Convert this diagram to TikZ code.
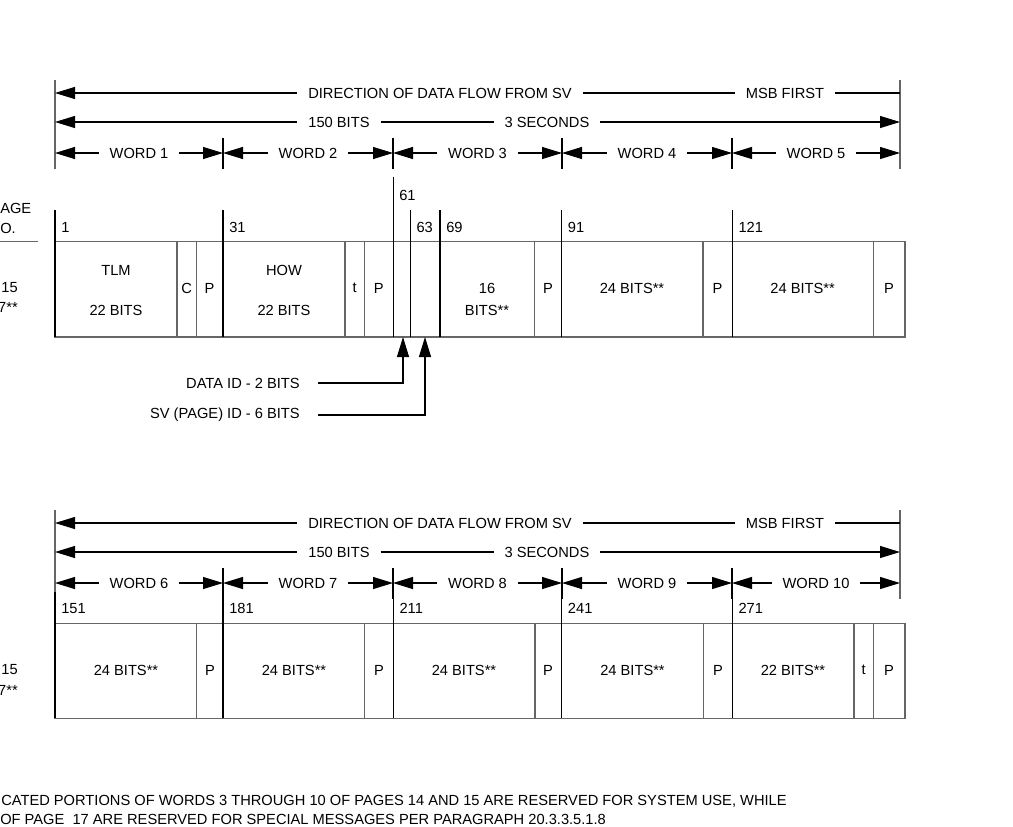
\documentclass[tikz,border=0pt]{standalone}
\usepackage{fontspec}
\setmainfont{Liberation Sans}
\usetikzlibrary{arrows.meta}

\begin{document}
\begin{tikzpicture}[x=0.75pt, y=-0.75pt, >={Triangle[length=15pt, width=9pt]},
  every node/.style={font=\fontsize{11}{13}\selectfont, inner sep=0pt},
  hdr/.style={inner xsep=8pt},
  num/.style={anchor=west},
  ln/.style={line width=0.8pt},
  gryln/.style={line width=0.8pt, black!60}]

  \useasboundingbox (0,0) rectangle (1013,826);
  \clip (0,0) rectangle (1013,826);

  % Header rows over both boxes
  \foreach \oy/\wa in {0/1, 430/6}{
    \draw[gryln] (55,80+\oy) -- (55,169+\oy);
    \draw[gryln] (900,80+\oy) -- (900,169+\oy);
    \coordinate (la\oy) at (55,93+\oy);
    \coordinate (ra\oy) at (900,93+\oy);
    \coordinate (lb\oy) at (55,122+\oy);
    \coordinate (rb\oy) at (900,122+\oy);
    % direction of flow
    \node[hdr] (dir\oy) at (440,93+\oy) {DIRECTION OF DATA FLOW FROM SV};
    \node[hdr] (msb\oy) at (785,93+\oy) {MSB FIRST};
    \draw[ln,<-] (la\oy) -- (dir\oy.west);
    \draw[ln] (dir\oy.east) -- (msb\oy.west);
    \draw[ln] (msb\oy.east) -- (ra\oy);
    % frame length
    \node[hdr] (bits\oy) at (339,122+\oy) {150 BITS};
    \node[hdr] (sec\oy) at (547,122+\oy) {3 SECONDS};
    \draw[ln,<-] (lb\oy) -- (bits\oy.west);
    \draw[ln] (bits\oy.east) -- (sec\oy.west);
    \draw[ln,->] (sec\oy.east) -- (rb\oy);
    % words
    \foreach \xa/\xb [count=\i] in {55/223, 223/393, 393/562, 562/732, 732/900}{
      \pgfmathtruncatemacro\wn{\wa+\i-1}
      \coordinate (wa\i\oy) at (\xa,153+\oy);
      \coordinate (wb\i\oy) at (\xb,153+\oy);
      \node[hdr] (word\i\oy) at ({(\xa+\xb)/2},153+\oy) {WORD \wn};
      \draw[ln,<-] (wa\i\oy) -- (word\i\oy.west);
      \draw[ln,->] (word\i\oy.east) -- (wb\i\oy);
    }
    \foreach \xs in {223,393,562,732} \draw[ln] (\xs,138+\oy) -- (\xs,169+\oy);
  }

  % Left column (cut off)
  \node[anchor=west] (pga) at (0,208) {AGE};
  \node[anchor=east] (pgb) at (16,228) {O.};
  \draw[gryln] (0,241.7) -- (38,241.7);
  \node[anchor=east] (pa) at (18,288) {15};
  \node[anchor=east] (pb) at (18,307) {7**};
  \node[anchor=east] (pc) at (18,670) {15};
  \node[anchor=east] (pd) at (18,690) {7**};

  % Words 1-5
  \draw[gryln] (55,241.7) rectangle (905,337);
  \foreach \xs in {177,196.3,345,364.3,534.3,703,873.3}
    \draw[gryln] (\xs,241.7) -- (\xs,337);
  \foreach \xs/\lab in {55/1, 223/31, 410.3/63, 440/69, 561.7/91, 732.3/121}{
    \draw[ln] (\xs,210) -- (\xs,337);
    \node[num] (n\lab) at (\xs+6,227) {\lab};
  }
  \draw[ln] (393.3,177) -- (393.3,337);
  \node[num] (n61) at (399,195) {61};
  \foreach \xc/\yc/\txt [count=\k] in {116/270/TLM, 116/310/22 BITS, 186.6/288/C,
      209.5/288/P, 284/270/HOW, 284/310/22 BITS, 354.6/288/t, 378.8/288/P,
      487/288/16, 487/310/BITS**, 548/288/P, 632/288/24 BITS**, 717.5/288/P,
      802.6/288/24 BITS**, 889/288/P}
    \node (fa\k) at (\xc,\yc) {\txt};

  % Data ID and SV ID pointers
  \coordinate (did) at (403,337);
  \coordinate (svid) at (425,337);
  \node[anchor=east] (dlab) at (300,383) {DATA ID - 2 BITS};
  \node[anchor=east] (slab) at (300,415) {SV (PAGE) ID - 6 BITS};
  \draw[ln,->] ([xshift=13.5pt]dlab.east) -| (did);
  \draw[ln,->] ([xshift=13.5pt]slab.east) -| (svid);

  % Words 6-10
  \draw[gryln] (55,623.3) rectangle (905,718.3);
  \foreach \xs in {196.7,364.3,535,703.3,854,873.3}
    \draw[gryln] (\xs,623.3) -- (\xs,718.3);
  \foreach \xs/\lab in {55/151, 223/181, 393.3/211, 561.7/241, 732.3/271}{
    \draw[ln] (\xs,591.7) -- (\xs,718.3);
    \node[num] (n\lab) at (\xs+6,608.3) {\lab};
  }
  \foreach \xc/\txt [count=\k] in {126/24 BITS**, 210/P, 294/24 BITS**, 379/P,
      464/24 BITS**, 548/P, 632.5/24 BITS**, 718/P, 793/22 BITS**, 863.6/t, 889/P}
    \node (fb\k) at (\xc,670) {\txt};

  % Footnote (cut off)
  \node[anchor=west] (nta) at (1,801) {CATED PORTIONS OF WORDS 3 THROUGH 10 OF PAGES 14 AND 15 ARE RESERVED FOR SYSTEM USE, WHILE};
  \node[anchor=west] (ntb) at (0,819) {OF PAGE\ \ 17 ARE RESERVED FOR SPECIAL MESSAGES PER PARAGRAPH 20.3.3.5.1.8};
\end{tikzpicture}
\end{document}
